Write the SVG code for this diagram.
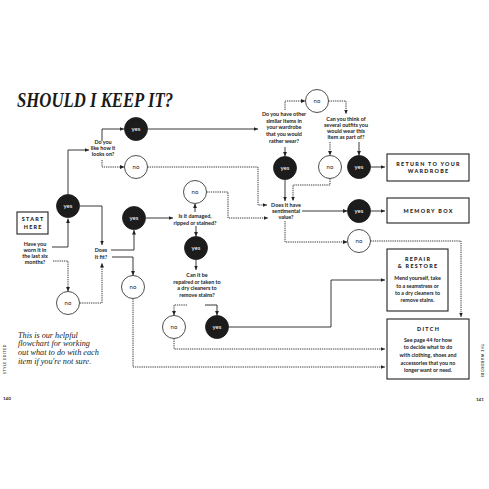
<svg xmlns="http://www.w3.org/2000/svg" width="489" height="489" viewBox="0 0 489 489">
<defs>
<marker id="ah" viewBox="0 0 6 6" refX="6" refY="3" markerWidth="4.5" markerHeight="4.5" orient="auto" markerUnits="userSpaceOnUse"><path d="M0,0.4 L6,3 L0,5.6z" fill="#222"/></marker>
<style>
.ln{fill:none;stroke:#222;stroke-width:0.9;marker-end:url(#ah)}
.ds{fill:none;stroke:#222;stroke-width:0.9;stroke-dasharray:1.3 0.9;marker-end:url(#ah)}
.yes{fill:#1c1c1c;stroke:#1c1c1c;stroke-width:0.8}
.no{fill:#fff;stroke:#222;stroke-width:0.8}
.yt{font-family:Lato,"Noto Sans",sans-serif;font-size:6px;fill:#fff;text-anchor:middle}
.nt{font-family:Lato,"Noto Sans",sans-serif;font-size:6px;fill:#222;text-anchor:middle}
.q{font-family:Lato,"Noto Sans",sans-serif;font-size:5.4px;font-weight:bold;fill:#222;text-anchor:middle}
.box{fill:#fff;stroke:#222;stroke-width:1.1}
.bt{font-family:Lato,"Noto Sans",sans-serif;font-size:5.4px;font-weight:900;letter-spacing:1.3px;fill:#222;text-anchor:middle}
.bb{font-family:Lato,"Noto Sans",sans-serif;font-size:5.3px;font-weight:bold;fill:#222;text-anchor:middle}
.cap{font-family:"Liberation Serif",serif;font-style:italic;font-size:8.2px;fill:#222}
.pg{font-family:Lato,"Noto Sans",sans-serif;font-size:4.5px;font-weight:bold;fill:#222}
.side{font-family:Lato,"Noto Sans",sans-serif;font-size:3.4px;font-weight:bold;letter-spacing:0.6px;fill:#444;text-anchor:middle}
</style>
</defs>
<rect width="489" height="489" fill="#fff"/>

<text x="17" y="107" font-family="Liberation Serif,serif" font-style="italic" font-weight="bold" font-size="20" textLength="156" lengthAdjust="spacingAndGlyphs" fill="#1a1a1a">SHOULD I KEEP IT?</text>

<g id="connectors">
<polyline class="ln" points="52,247 68,247 68,218.5"/>
<polyline class="ds" points="53,261 68,261 68,291.5"/>
<polyline class="ln" points="68,194 68,150 89,150"/>
<polyline class="ln" points="80,206 102,206 102,245"/>
<polyline class="ds" points="80,303 102,303 102,263"/>
<polyline class="ln" points="102,141 102,129 124,129"/>
<polyline class="ds" points="102,160 102,167 124.5,167"/>
<polyline class="ln" points="147.5,129 258,129"/>
<polyline class="ds" points="147.5,167 258,167 258,205 267,205"/>
<polyline class="ln" points="111,250 134,250 134,230"/>
<polyline class="ln" points="112,257 133,257 133,275.5"/>
<polyline class="ds" points="133,298.5 133,367 385,367"/>
<polyline class="ln" points="146,218 173,218"/>
<polyline class="ln" points="195,212 195,203.5"/>
<polyline class="ln" points="196,226 196,236.5"/>
<polyline class="ds" points="206.5,192 228,192 228,218 268,218"/>
<polyline class="ln" points="196,259.5 196,270"/>
<polyline class="ds" points="187,305 174,305 174,315.5"/>
<polyline class="ln" points="205,305 217,305 217,315.5"/>
<polyline class="ln" points="228.5,327 331,327 331,280 385,280"/>
<polyline class="ds" points="174,338.5 174,349 385,349"/>
<polyline class="ds" points="285,110 285,101 305.5,101"/>
<polyline class="ds" points="328.5,101 346,101 346,114"/>
<polyline class="ln" points="285,147 285,156.5"/>
<polyline class="ds" points="330,142 330,155.5"/>
<polyline class="ln" points="359,142 359,155.5"/>
<polyline class="ln" points="370.5,167 385,167"/>
<polyline class="ln" points="285,179.5 285,201"/>
<polyline class="ds" points="330,178.5 330,185 293,185 293,201"/>
<polyline class="ln" points="302,211 347.5,211"/>
<polyline class="ln" points="370.5,211 385,211"/>
<polyline class="ds" points="285,221 285,242 347.5,242"/>
<polyline class="ds" points="370.5,241 461,241 461,317"/>
</g>

<g id="start"><rect class="box" x="17" y="212" width="31" height="22"/><text class="bt" x="33.2" y="221.3">START</text><text class="bt" x="33.2" y="228.5">HERE</text></g>
<g id="q-worn"><text class="q" x="35" y="246">Have you</text><text class="q" x="35" y="252">worn it in</text><text class="q" x="35" y="258">the last six</text><text class="q" x="35" y="264">months?</text></g>
<g id="y0"><circle class="yes" cx="68" cy="206" r="11.5"/><text class="yt" x="68" y="208">yes</text></g>
<g id="n0"><circle class="no" cx="68" cy="303" r="11.5"/><text class="nt" x="68" y="305">no</text></g>
<g id="q-like"><text class="q" x="103" y="144">Do you</text><text class="q" x="103" y="150">like how it</text><text class="q" x="103" y="156">looks on?</text></g>
<g id="y1"><circle class="yes" cx="136" cy="129" r="11.5"/><text class="yt" x="136" y="131">yes</text></g>
<g id="n1"><circle class="no" cx="136" cy="167" r="11.5"/><text class="nt" x="136" y="169">no</text></g>
<g id="q-fit"><text class="q" x="101" y="251.5">Does</text><text class="q" x="101" y="258.5">it fit?</text></g>
<g id="y2"><circle class="yes" cx="134" cy="218" r="11.5"/><text class="yt" x="134" y="220">yes</text></g>
<g id="n2"><circle class="no" cx="133" cy="287" r="11.5"/><text class="nt" x="133" y="289">no</text></g>
<g id="q-damaged"><text class="q" x="195" y="217.5">Is it damaged,</text><text class="q" x="195" y="224.5">ripped or stained?</text></g>
<g id="n3"><circle class="no" cx="195" cy="192" r="11.5"/><text class="nt" x="195" y="194">no</text></g>
<g id="y3"><circle class="yes" cx="196" cy="248" r="11.5"/><text class="yt" x="196" y="250">yes</text></g>
<g id="q-repair"><text class="q" x="197" y="277">Can it be</text><text class="q" x="197" y="283.7">repaired or taken to</text><text class="q" x="197" y="290.3">a dry cleaners to</text><text class="q" x="197" y="297">remove stains?</text></g>
<g id="n4"><circle class="no" cx="174" cy="327" r="11.5"/><text class="nt" x="174" y="329">no</text></g>
<g id="y4"><circle class="yes" cx="217" cy="327" r="11.5"/><text class="yt" x="217" y="329">yes</text></g>
<g id="q-similar"><text class="q" x="284" y="116">Do you have other</text><text class="q" x="284" y="122.7">similar items in</text><text class="q" x="284" y="129.4">your wardrobe</text><text class="q" x="284" y="136.1">that you would</text><text class="q" x="284" y="142.8">rather wear?</text></g>
<g id="n5"><circle class="no" cx="317" cy="101" r="11.5"/><text class="nt" x="317" y="103">no</text></g>
<g id="q-outfits"><text class="q" x="346" y="121">Can you think of</text><text class="q" x="346" y="127">several outfits you</text><text class="q" x="346" y="133">would wear this</text><text class="q" x="346" y="139">item as part of?</text></g>
<g id="y5"><circle class="yes" cx="285" cy="168" r="11.5"/><text class="yt" x="285" y="170">yes</text></g>
<g id="n6"><circle class="no" cx="330" cy="167" r="11.5"/><text class="nt" x="330" y="169">no</text></g>
<g id="y6"><circle class="yes" cx="359" cy="167" r="11.5"/><text class="yt" x="359" y="169">yes</text></g>
<g id="q-sentimental"><text class="q" x="286" y="207">Does it have</text><text class="q" x="286" y="213">sentimental</text><text class="q" x="286" y="219">value?</text></g>
<g id="y7"><circle class="yes" cx="359" cy="211" r="11.5"/><text class="yt" x="359" y="213">yes</text></g>
<g id="n7"><circle class="no" cx="359" cy="241" r="11.5"/><text class="nt" x="359" y="243">no</text></g>
<g id="return"><rect class="box" x="387" y="154" width="82" height="27"/><text class="bt" x="428.6" y="166">RETURN TO YOUR</text><text class="bt" x="428.6" y="172.8">WARDROBE</text></g>
<g id="memory"><rect class="box" x="387" y="198" width="82" height="25"/><text class="bt" x="428.6" y="212.8">MEMORY BOX</text></g>
<g id="repair"><rect class="box" x="387" y="249" width="61" height="62"/><text class="bt" x="418.1" y="261">REPAIR</text><text class="bt" x="418.1" y="267.8">&amp; RESTORE</text><text class="bb" x="417.5" y="280.3">Mend yourself, take</text><text class="bb" x="417.5" y="287.6">to a seamstress or</text><text class="bb" x="417.5" y="294.8">to a dry cleaners to</text><text class="bb" x="417.5" y="302">remove stains.</text></g>
<g id="ditch"><rect class="box" x="387" y="319" width="82" height="60"/><text class="bt" x="428.6" y="330.5">DITCH</text><text class="bb" x="428" y="342">See page 44 for how</text><text class="bb" x="428" y="349.4">to decide what to do</text><text class="bb" x="428" y="357">with clothing, shoes and</text><text class="bb" x="428" y="364.6">accessories that you no</text><text class="bb" x="428" y="372">longer want or need.</text></g>

<g id="caption"><text class="cap" x="18" y="337.5">This is our helpful</text><text class="cap" x="18" y="346.3">flowchart for working</text><text class="cap" x="18" y="355.1">out what to do with each</text><text class="cap" x="18" y="363.9">item if you're not sure.</text></g>
<text class="pg" x="3" y="400">140</text>
<text class="pg" x="476" y="401">141</text>
<text class="side" transform="translate(5.5,359) rotate(-90)">STYLE EDITED</text>
<text class="side" transform="translate(481,361) rotate(90)">THE WARDROBE</text>
</svg>
